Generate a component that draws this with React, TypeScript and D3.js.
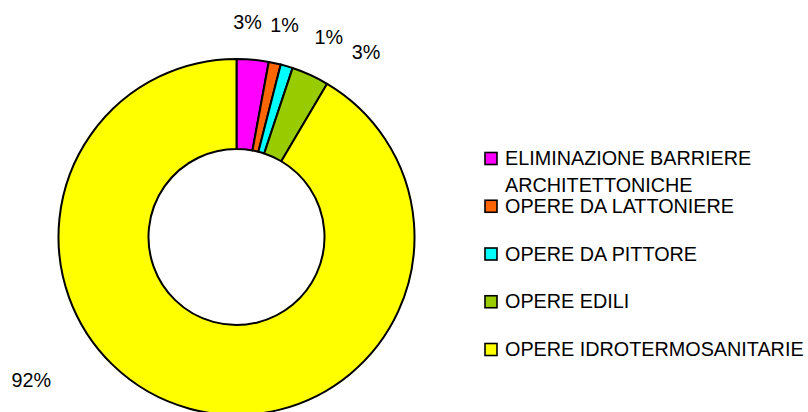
import React from "react";
import * as d3 from "d3";

const categories = [
  "ELIMINAZIONE BARRIERE ARCHITETTONICHE",
  "OPERE DA LATTONIERE",
  "OPERE DA PITTORE",
  "OPERE EDILI",
  "OPERE IDROTERMOSANITARIE",
];
const values = [2.9, 1.1, 1.1, 3.4, 91.5];
const colors = ["#FF00FF", "#FF6600", "#00FFFF", "#99CC00", "#FFFF00"];

// label placement tweaks (layout, not data): angular shift in degrees, radius
const labelShiftDeg = [-2.3, 0.4, 8.4, 10.5, 39.9];
const labelRadius = [215, 217, 220, 226, 250];

const W = 808;
const H = 412;
const cx = 236.5;
const cy = 237;
const outerR = 178;
const innerR = 88;
const FONT = "'Liberation Sans', Arial, sans-serif";
const FS = 19.8;

function wrap(label: string, maxChars: number): string[] {
  const words = label.split(" ");
  const lines: string[] = [];
  let cur = "";
  for (const w of words) {
    const next = cur ? cur + " " + w : w;
    if (next.length > maxChars && cur) {
      lines.push(cur);
      cur = w;
    } else cur = next;
  }
  if (cur) lines.push(cur);
  return lines;
}

export default function App() {
  const pie = d3.pie<number>().sort(null).value((d) => d);
  const arcs = pie(values);
  const arcGen = d3.arc<d3.PieArcDatum<number>>().innerRadius(innerR).outerRadius(outerR);
  const total = d3.sum(values);

  const legendY = d3
    .scaleLinear()
    .domain([0, categories.length - 1])
    .range([165, 356]);

  return (
    <svg
      width={W}
      height={H}
      style={{ position: "absolute", left: 0, top: 0, display: "block", background: "#fff" }}
    >
      <g transform={`translate(${cx},${cy})`}>
        {arcs.map((a, i) => (
          <path key={i} d={arcGen(a) || ""} fill={colors[i]} stroke="#000" strokeWidth={2} strokeLinejoin="round" />
        ))}
        {arcs.map((a, i) => {
          const mid = (a.startAngle + a.endAngle) / 2 + (labelShiftDeg[i] * Math.PI) / 180;
          const r = labelRadius[i];
          const x = r * Math.sin(mid);
          const y = -r * Math.cos(mid);
          return (
            <text
              key={"l" + i}
              x={x}
              y={y}
              textAnchor="middle"
              dominantBaseline="central"
              fontFamily={FONT}
              fontSize={FS}
              fill="#000"
            >
              {Math.round((values[i] / total) * 100) + "%"}
            </text>
          );
        })}
      </g>
      <g>
        {categories.map((c, i) => {
          const by = legendY(i);
          const lines = wrap(c, 25);
          return (
            <g key={"g" + i}>
              <rect x={485} y={by - 12.5} width={12} height={12} fill={colors[i]} stroke="#000" strokeWidth={1.6} />
              <text x={505} y={by} fontFamily={FONT} fontSize={FS} fill="#000">
                {lines.map((ln, j) => (
                  <tspan key={j} x={505} dy={j === 0 ? 0 : 26.7}>
                    {ln}
                  </tspan>
                ))}
              </text>
            </g>
          );
        })}
      </g>
    </svg>
  );
}
